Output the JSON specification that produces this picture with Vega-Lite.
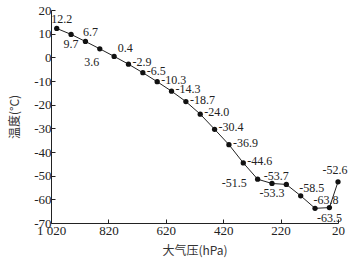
{
  "$schema": "https://vega.github.io/schema/vega-lite/v6.json",
  "width": 287,
  "height": 213,
  "autosize": "none",
  "padding": {"left": 51, "top": 10, "right": 16, "bottom": 49},
  "background": "white",
  "config": {
    "view": {"stroke": null},
    "axis": {
      "labelFont": "Liberation Serif",
      "labelFontSize": 13,
      "labelColor": "#222",
      "titleFont": "Noto Sans CJK SC",
      "titleFontSize": 12,
      "titleFontWeight": "normal",
      "titleColor": "#333",
      "domainColor": "#222",
      "tickColor": "#222",
      "grid": false
    },
    "text": {"font": "Liberation Serif", "fontSize": 12, "color": "#222"}
  },
  "data": {
    "values": [
      {"p": 1000, "t": 12.2, "pos": "above"},
      {"p": 950, "t": 9.7, "pos": "below"},
      {"p": 900, "t": 6.7, "pos": "above"},
      {"p": 850, "t": 3.6, "pos": "belowleft"},
      {"p": 800, "t": 0.4, "pos": "aboveright"},
      {"p": 750, "t": -2.9, "pos": "right"},
      {"p": 700, "t": -6.5, "pos": "right"},
      {"p": 650, "t": -10.3, "pos": "right"},
      {"p": 600, "t": -14.3, "pos": "right"},
      {"p": 550, "t": -18.7, "pos": "right"},
      {"p": 500, "t": -24.0, "pos": "right"},
      {"p": 450, "t": -30.4, "pos": "right"},
      {"p": 400, "t": -36.9, "pos": "right"},
      {"p": 350, "t": -44.6, "pos": "right"},
      {"p": 300, "t": -51.5, "pos": "left"},
      {"p": 250, "t": -53.3, "pos": "below"},
      {"p": 200, "t": -53.7, "pos": "aboveleft"},
      {"p": 150, "t": -58.5, "pos": "aboveright"},
      {"p": 100, "t": -63.8, "pos": "aboveright"},
      {"p": 50, "t": -63.5, "pos": "below"},
      {"p": 20, "t": -52.6, "pos": "top"}
    ]
  },
  "transform": [{"calculate": "replace(format(datum.t, '.1f'), '\u2212', '-')", "as": "lbl"}],
  "encoding": {
    "x": {
      "field": "p",
      "type": "quantitative",
      "scale": {"domain": [1020, 20], "nice": false, "zero": false},
      "axis": {
        "values": [1020, 820, 620, 420, 220, 20],
        "labelExpr": "datum.value == 1020 ? '1 020' : datum.label",
        "title": "大气压(hPa)",
        "tickSize": -4,
        "labelPadding": 5,
        "titlePadding": 8,
        "labelFlush": false,
        "labelOverlap": false
      }
    },
    "y": {
      "field": "t",
      "type": "quantitative",
      "scale": {"domain": [-70, 20], "nice": false, "zero": false},
      "axis": {
        "values": [-70, -60, -50, -40, -30, -20, -10, 0, 10, 20],
        "labelExpr": "replace(datum.label, '\u2212', '-')",
        "title": "温度(°C)",
        "tickSize": -4,
        "labelPadding": 4,
        "titlePadding": 12,
        "labelFlush": false,
        "labelOverlap": false
      }
    }
  },
  "layer": [
    {"mark": {"type": "line", "color": "#222", "strokeWidth": 1}},
    {"mark": {"type": "point", "filled": true, "color": "#111", "size": 28, "opacity": 1}},
    {"transform": [{"filter": "datum.pos == 'above'"}], "mark": {"type": "text", "dx": 5, "dy": -9, "align": "center"}, "encoding": {"text": {"field": "lbl"}}},
    {"transform": [{"filter": "datum.pos == 'top'"}], "mark": {"type": "text", "dx": -3, "dy": -12, "align": "center"}, "encoding": {"text": {"field": "lbl"}}},
    {"transform": [{"filter": "datum.pos == 'aboveright'"}], "mark": {"type": "text", "dx": 11, "dy": -8, "align": "center"}, "encoding": {"text": {"field": "lbl"}}},
    {"transform": [{"filter": "datum.pos == 'aboveleft'"}], "mark": {"type": "text", "dx": -10, "dy": -8, "align": "center"}, "encoding": {"text": {"field": "lbl"}}},
    {"transform": [{"filter": "datum.pos == 'below'"}], "mark": {"type": "text", "dx": 0, "dy": 10, "align": "center"}, "encoding": {"text": {"field": "lbl"}}},
    {"transform": [{"filter": "datum.pos == 'belowleft'"}], "mark": {"type": "text", "dx": -8, "dy": 13, "align": "center"}, "encoding": {"text": {"field": "lbl"}}},
    {"transform": [{"filter": "datum.pos == 'right'"}], "mark": {"type": "text", "dx": 4, "dy": -2, "align": "left"}, "encoding": {"text": {"field": "lbl"}}},
    {"transform": [{"filter": "datum.pos == 'left'"}], "mark": {"type": "text", "dx": -11, "dy": 4, "align": "right"}, "encoding": {"text": {"field": "lbl"}}}
  ]
}
